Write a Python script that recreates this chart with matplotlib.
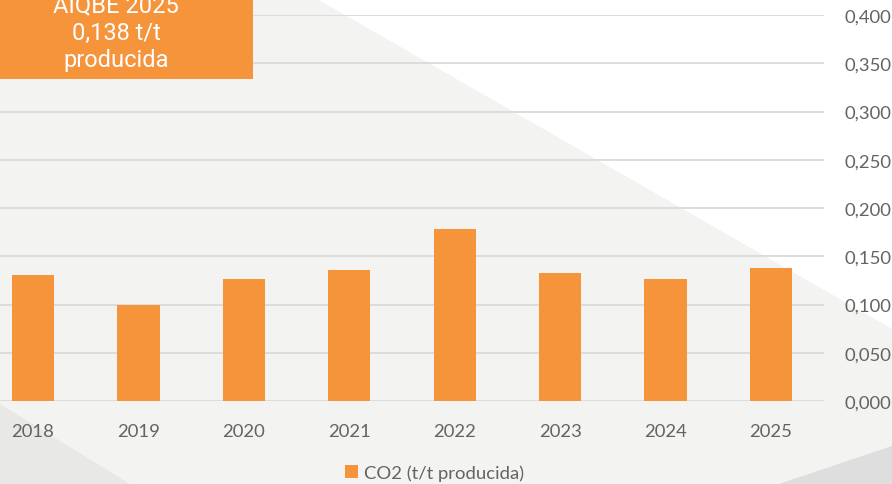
import matplotlib.pyplot as plt
from matplotlib.patches import Polygon, Rectangle

# CO2 emitted per tonne produced, by year
years = ['2018', '2019', '2020', '2021', '2022', '2023', '2024', '2025']
co2 = [0.131, 0.100, 0.126, 0.136, 0.178, 0.133, 0.126, 0.138]
y_ticks = [0.0, 0.05, 0.10, 0.15, 0.20, 0.25, 0.30, 0.35, 0.40]
y_tick_labels = ['0,000', '0,050', '0,100', '0,150', '0,200', '0,250', '0,300', '0,350', '0,400']
box_lines = ['AIQBE 2025', '0,138 t/t', 'producida']
legend_label = 'CO2 (t/t producida)'

W, H = 892, 485
ORANGE = '#F5943A'
TEXT_GREY = '#636363'
GRID_GREY = '#DADADA'

plt.rcParams['font.family'] = ['Lato', 'DejaVu Sans']

fig = plt.figure(figsize=(W / 100, H / 100), dpi=100)
fig.patch.set_facecolor('#F3F3F2')

# background shapes, in pixel space (y down)
bg = fig.add_axes([0, 0, 1, 1], zorder=-1)
bg.set_xlim(0, W)
bg.set_ylim(H, 0)
bg.axis('off')
bg.add_patch(Polygon([(317, 0), (W, 0), (W, 330)], closed=True,
                     facecolor='#FFFFFF', edgecolor='none'))
bg.add_patch(Polygon([(0, 405), (130, 485), (0, 485)], closed=True,
                     facecolor='#E8E8E7', edgecolor='none'))
bg.add_patch(Polygon([(779, 485), (W, 447), (W, 485)], closed=True,
                     facecolor='#DEDEDE', edgecolor='none'))

# main plot area (left edge falls just outside the canvas)
ax = fig.add_axes([-19.7 / W, 83 / H, 843.4 / W, 386 / H])
ax.set_facecolor('none')
x = range(len(years))
bars = ax.bar(x, co2, width=0.4, color=ORANGE, zorder=3, label=legend_label)

ax.set_xlim(-0.5, len(years) - 0.5)
ax.set_ylim(0, 0.4)
ax.set_xticks(list(x))
ax.set_xticklabels(years)
ax.set_yticks(y_ticks)
ax.set_yticklabels(y_tick_labels)
ax.yaxis.tick_right()
ax.tick_params(axis='both', length=0, labelsize=13.3, labelcolor=TEXT_GREY)
ax.tick_params(axis='x', pad=15.5)
ax.tick_params(axis='y', pad=15)
ax.grid(axis='y', color=GRID_GREY, linewidth=1.3, zorder=0)
for s in ax.spines.values():
    s.set_visible(False)

fig.legend(handles=[bars], labels=[legend_label], loc='center',
           bbox_to_anchor=(434.5 / W, 1 - 474 / H), frameon=False,
           fontsize=13.3, handlelength=0.7, handleheight=0.7,
           handletextpad=0.35, labelcolor=TEXT_GREY)

# highlight box in the top-left corner
fig.add_artist(Rectangle((0, 1 - 80 / H), 253 / W, 80 / H,
                         transform=fig.transFigure, facecolor=ORANGE,
                         edgecolor='none'))
for i, line in enumerate(box_lines):
    fig.text(116 / W, 1 - (12 + 27.5 * i) / H, line, ha='center',
             va='baseline', color='white', fontsize=17,
             family=['Roboto', 'DejaVu Sans'])

fig.savefig('out.png', dpi=100)
